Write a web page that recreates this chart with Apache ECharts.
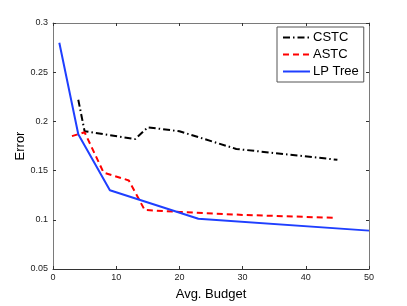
<!DOCTYPE html>
<html>
<head>
<meta charset="utf-8">
<script src="https://cdn.jsdelivr.net/npm/echarts@6/dist/echarts.min.js"></script>
<style>html,body{margin:0;padding:0;background:#fff}#c{width:407px;height:306px}</style>
</head>
<body>
<div id="c"></div>
<script>
var cstcX = [4, 5, 13, 15, 20, 23, 29, 45];
var cstcY = [0.222, 0.190, 0.182, 0.194, 0.190, 0.184, 0.172, 0.161];
var astcX = [3, 5, 8, 12, 14.5, 20, 30, 44.5];
var astcY = [0.185, 0.189, 0.148, 0.140, 0.110, 0.108, 0.105, 0.102];
var lpX = [1, 4, 9, 23, 50];
var lpY = [0.280, 0.187, 0.130, 0.101, 0.089];
var seriesNames = ['CSTC', 'ASTC', 'LP Tree'];

function zip(xs, ys) { return xs.map(function (x, i) { return [x, ys[i]]; }); }

var font = 'Liberation Sans, Arial, Helvetica, sans-serif';
var chart = echarts.init(document.getElementById('c'), null, {renderer: 'canvas'});
var boxColor = '#7a7a7a';
function axisBase(extra) {
  var a = {
    axisLine: {show: true, onZero: false, lineStyle: {color: boxColor, width: 1}},
    axisTick: {show: true, inside: true, length: 3, lineStyle: {color: '#333'}},
    splitLine: {show: false},
    axisLabel: {color: '#222', fontFamily: font, fontSize: 9},
  };
  for (var k in extra) a[k] = extra[k];
  return a;
}
chart.setOption({
  animation: false,
  backgroundColor: '#fff',
  grid: {left: 53, right: 38, top: 23, bottom: 34, containLabel: false},
  legend: {
    data: seriesNames,
    orient: 'vertical',
    left: 277, top: 27,
    padding: [4, 5, 4, 5],
    itemWidth: 27, itemHeight: 12, itemGap: 4,
    itemStyle: {opacity: 0},
    borderColor: '#555', borderWidth: 1, backgroundColor: '#fff',
    textStyle: {fontFamily: font, fontSize: 13, color: '#000', padding: [0, 0, 0, -2]}
  },
  xAxis: [
    axisBase({type: 'value', min: 0, max: 50, interval: 10, position: 'bottom',
      axisLine: {show: true, onZero: false, lineStyle: {color: '#333', width: 1}},
      name: 'Avg. Budget', nameLocation: 'middle', nameGap: 19, nameMoveOverlap: false,
      nameTextStyle: {fontFamily: font, fontSize: 13, color: '#000'},
      axisLabel: {color: '#222', fontFamily: font, fontSize: 9, margin: 4}}),
    axisBase({type: 'value', min: 0, max: 50, interval: 10, position: 'top', axisLabel: {show: false}})
  ],
  yAxis: [
    axisBase({type: 'value', min: 0.05, max: 0.3, interval: 0.05, position: 'left',
      name: 'Error', nameLocation: 'middle', nameGap: 26, nameMoveOverlap: false,
      nameTextStyle: {fontFamily: font, fontSize: 13, color: '#000'},
      axisLabel: {color: '#222', fontFamily: font, fontSize: 9, margin: 5}}),
    axisBase({type: 'value', min: 0.05, max: 0.3, interval: 0.05, position: 'right', axisLabel: {show: false}})
  ],
  series: [
    {name: seriesNames[0], type: 'line', symbol: 'none', data: zip(cstcX, cstcY),
      lineStyle: {color: '#000', width: 2, type: [7, 3, 1.5, 3]}, itemStyle: {color: '#000'}},
    {name: seriesNames[1], type: 'line', symbol: 'none', data: zip(astcX, astcY),
      lineStyle: {color: '#ff0000', width: 2, type: [6, 4]}, itemStyle: {color: '#ff0000'}},
    {name: seriesNames[2], type: 'line', symbol: 'none', data: zip(lpX, lpY),
      lineStyle: {color: '#1f3fff', width: 2, type: 'solid'}, itemStyle: {color: '#1f3fff'}}
  ]
});
</script>
</body>
</html>
